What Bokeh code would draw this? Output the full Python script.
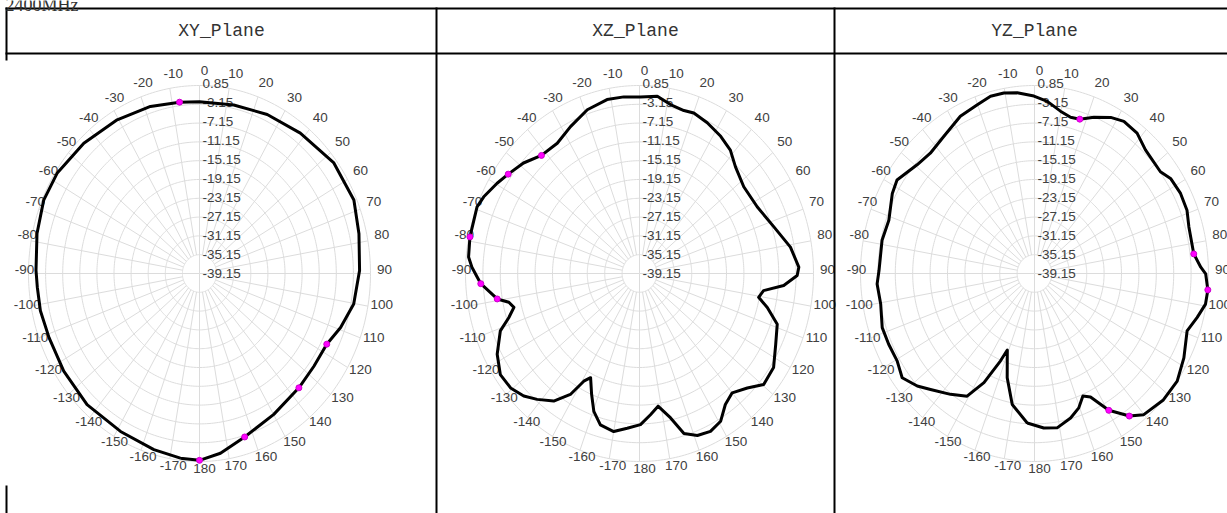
import numpy as np
from bokeh.plotting import figure
from bokeh.models import Range1d
from bokeh.embed import file_html
from bokeh.resources import INLINE
from bokeh.core.properties import value

# ---------------- data ----------------
title_text = "2400MHz"
plane_names = ["XY_Plane", "XZ_Plane", "YZ_Plane"]
radial_ticks = [0.85, -3.15, -7.15, -11.15, -15.15, -19.15, -23.15, -27.15, -31.15, -35.15, -39.15]
angle_ticks = [0, 10, 20, 30, 40, 50, 60, 70, 80, 90, 100, 110, 120, 130, 140, 150, 160, 170, 180,
               -170, -160, -150, -140, -130, -120, -110, -100, -90, -80, -70, -60, -50, -40, -30, -20, -10]

xy_angle = [-173.5, -164.1, -151.2, -136.7, -123.2, -111.2, -102.0, -94.4, -89.0, -77.4, -66.8,
            -57.4, -44.3, -30.5, -17.9, -7.3, 0.0, 12.6, 25.1, 38.3, 53.2, 66.6, 77.2, 89.0,
            100.2, 109.2, 116.8, 126.4, 136.3, 149.9, 163.1, 172.7, 180.0]
xy_gain = [0.4, -0.2, -0.8, -0.8, -1.2, -1.4, -1.1, -1.1, -0.9, -0.2, 0.5,
           0.4, -0.4, -1.2, -1.8, -2.4, -2.6, -2.4, -1.8, -1.1, 0.1, 0.2, -0.9, -1.7,
           -2.5, -4.2, -5.8, -5.9, -5.5, -4.5, -2.8, -0.6, 0.6]
xy_mark_angle = [-7.3, 116.8, 136.3, 163.1, 180.0]
xy_mark_gain = [-2.4, -5.8, -5.5, -2.8, 0.6]

xz_angle = [-175.1, -170.0, -164.4, -160.3, -156.8, -153.1, -150.8, -148.3, -144.0, -138.7,
            -134.4, -129.4, -123.9, -117.7, -110.9, -107.3, -104.0, -101.5, -99.4, -93.4,
            -88.0, -84.9, -78.7, -69.2, -65.5, -59.6, -55.0, -48.6, -41.9, -34.3,
            -26.9, -19.0, -11.4, -5.5, 0.3, 6.2, 11.2, 16.4, 20.1, 25.9,
            32.6, 38.5, 44.2, 52.4, 62.3, 72.2, 80.8, 87.9, 90.7, 94.4,
            97.3, 100.5, 103.8, 108.8, 115.7, 123.0, 129.6, 134.5, 140.0, 144.7,
            149.3, 154.1, 158.9, 163.3, 166.9, 171.4, 175.2, 179.6]
xz_gain = [-6.1, -5.0, -5.7, -8.0, -11.2, -14.3, -12.9, -8.9, -5.6, -3.5,
           -1.9, -0.8, -0.6, -2.2, -4.9, -7.7, -9.4, -8.5, -6.0, -2.6,
           -0.6, 0.3, 0.6, 0.8, 0.2, -1.2, -2.3, -3.6, -5.4, -5.6,
           -4.1, -2.3, -1.4, -1.4, -1.6, -1.2, -2.5, -3.0, -2.8, -3.5,
           -4.5, -5.6, -7.5, -8.9, -8.6, -6.7, -4.0, -2.5, -2.9, -5.9,
           -10.4, -11.3, -8.9, -5.7, -4.4, -2.4, -2.1, -4.4, -6.0, -5.0,
           -2.6, -1.8, -2.2, -3.6, -7.6, -10.6, -9.0, -7.0]
xz_mark_angle = [-99.4, -93.4, -78.7, -55.0, -41.9]
xz_mark_gain = [-6.0, -2.6, 0.6, -2.3, -5.4]

yz_angle = [-177.0, -169.6, -164.2, -159.0, -157.2, -153.4, -149.3, -143.1, -135.9, -131.6,
            -126.1, -120.5, -114.2, -108.2, -100.4, -93.5, -89.0, -78.6, -71.3, -62.5,
            -57.8, -49.4, -43.1, -35.6, -27.0, -20.1, -15.0, -10.4, -5.9, -0.2,
            4.6, 9.8, 14.0, 17.6, 22.3, 27.8, 32.4, 38.3, 44.1, 53.2,
            57.1, 63.1, 69.0, 74.4, 83.5, 88.0, 90.1, 95.0, 99.4, 104.0,
            109.2, 117.6, 124.9, 132.4, 140.1, 144.3, 149.6, 153.9, 156.9, 160.4,
            164.9, 171.0, 176.3]
yz_gain = [-7.3, -10.8, -16.1, -21.7, -19.0, -13.2, -8.8, -7.0, -4.8, -3.1,
           -1.5, -2.5, -2.4, -2.3, -3.2, -2.9, -3.4, -3.4, -3.8, -2.3,
           -1.8, -3.6, -4.1, -3.3, -1.6, -0.9, -0.1, -0.1, -0.5, -1.4,
           -2.4, -4.1, -4.9, -4.7, -3.2, -1.6, -0.8, -1.1, -2.5, -3.0,
           -1.9, -1.5, -1.6, -2.3, -2.3, -0.9, 0.2, 0.85, 0.7, -0.6,
           -2.0, -0.4, 0.85, 0.85, 0.0, -1.8, -5.4, -9.9, -10.8, -8.8,
           -7.3, -5.9, -6.2]
yz_mark_angle = [17.6, 83.5, 95.0, 144.3, 149.6]
yz_mark_gain = [-4.7, -2.3, 0.85, -1.8, -5.4]

# ---------------- layout (page pixel coordinates) ----------------
W, H = 1227, 513
r_max, r_min = radial_ticks[0], radial_ticks[-1]

charts = [
    dict(cx=199, cy=273, rx=171, ry=188, ang=xy_angle, gain=xy_gain, ma=xy_mark_angle, mg=xy_mark_gain),
    dict(cx=639, cy=273, rx=174, ry=188, ang=xz_angle, gain=xz_gain, ma=xz_mark_angle, mg=xz_mark_gain),
    dict(cx=1034, cy=273, rx=174, ry=188, ang=yz_angle, gain=yz_gain, ma=yz_mark_angle, mg=yz_mark_gain),
]
col_edges = [6, 436, 834, 1234]

p = figure(width=W, height=H, output_backend="svg", toolbar_location=None,
           x_range=Range1d(0, W), y_range=Range1d(H, 0),
           x_axis_location=None, y_axis_location=None, min_border=0,
           outline_line_color=None, background_fill_color="white", border_fill_color="white")
p.grid.visible = False


def frac(g):
    return (np.asarray(g, dtype=float) - r_min) / (r_max - r_min)


def to_xy(c, ang, gain):
    t = np.radians(np.asarray(ang, dtype=float))
    f = frac(gain)
    return c["cx"] + c["rx"] * f * np.sin(t), c["cy"] - c["ry"] * f * np.cos(t)


label_font = value("Liberation Sans")
label_color = "#404040"
grid_color = "#dcdcdc"

for c in charts:
    # rings
    phi = np.radians(np.linspace(0, 360, 361))
    xs, ys = [], []
    for tk in radial_ticks[:-1]:
        f = frac(tk)
        xs.append(list(c["cx"] + c["rx"] * f * np.sin(phi)))
        ys.append(list(c["cy"] - c["ry"] * f * np.cos(phi)))
    p.multi_line(xs, ys, line_color=grid_color, line_width=1)
    # spokes
    f_in = frac(radial_ticks[-2])
    x0, y0, x1, y1 = [], [], [], []
    for a in range(0, 360, 10):
        t = np.radians(a)
        fi = 0.0 if a % 90 == 0 else f_in
        x0.append(c["cx"] + c["rx"] * fi * np.sin(t)); y0.append(c["cy"] - c["ry"] * fi * np.cos(t))
        x1.append(c["cx"] + c["rx"] * np.sin(t)); y1.append(c["cy"] - c["ry"] * np.cos(t))
    p.segment(x0, y0, x1, y1, line_color=grid_color, line_width=1)
    # angle labels
    ta = np.radians(np.array(angle_ticks, dtype=float))
    lx = c["cx"] + 5 + (c["rx"] + 9) * np.sin(ta)
    ly = c["cy"] - 4 - (c["ry"] + 11) * np.cos(ta)
    p.text(lx, ly, text=[str(a) for a in angle_ticks], text_font=label_font, text_font_size="13.5px",
           text_color=label_color, text_align="center", text_baseline="middle")
    # radial labels
    fr = frac(radial_ticks)
    p.text([c["cx"] + 3] * len(radial_ticks), list(c["cy"] - (c["ry"] + 2) * fr),
           text=["%.2f" % v for v in radial_ticks], text_font=label_font, text_font_size="13.5px",
           text_color=label_color, text_align="left", text_baseline="middle")
    # pattern curve
    cx_, cy_ = to_xy(c, c["ang"] + c["ang"][:1], c["gain"] + c["gain"][:1])
    p.line(cx_, cy_, line_color="black", line_width=3, line_join="round")
    mx, my = to_xy(c, c["ma"], c["mg"])
    p.scatter(mx, my, size=6, fill_color="#ff00ff", line_color="#cc00cc", line_width=1)

# table borders
p.segment(x0=[col_edges[0] - 1], y0=[8], x1=[col_edges[-1]], y1=[8], line_color="black", line_width=2)
p.segment(x0=[col_edges[0] - 1], y0=[53], x1=[col_edges[-1]], y1=[53], line_color="black", line_width=2)
p.segment(x0=[col_edges[1], col_edges[2]], y0=[7, 7], x1=[col_edges[1], col_edges[2]], y1=[515, 515],
          line_color="black", line_width=2)
p.segment(x0=[col_edges[0], col_edges[0]], y0=[7, 485], x1=[col_edges[0], col_edges[0]], y1=[60, 515],
          line_color="black", line_width=2)

# header texts
hx = [(col_edges[i] + col_edges[i + 1]) / 2 for i in range(3)]
p.text(hx, [30] * 3, text=plane_names, text_font=value("Liberation Mono"), text_font_size="18px",
       text_color="#333333", text_align="center", text_baseline="middle")
p.text([5], [4], text=[title_text], text_font=value("Liberation Serif"), text_font_size="18px",
       text_color="#333333", text_align="left", text_baseline="alphabetic")

open("out.html", "w").write(file_html(p, INLINE))
